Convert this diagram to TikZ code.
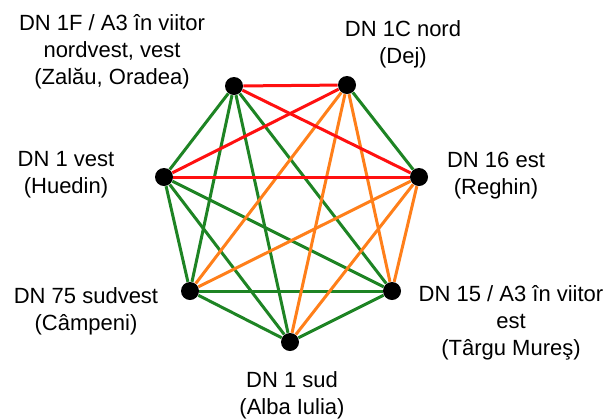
\documentclass[tikz,border=0pt]{standalone}
\usepackage{fontspec}
\setmainfont{Liberation Sans}
\usepackage{tikz}
\usetikzlibrary{positioning}
\definecolor{RoadGreen}{HTML}{1E8424}
\definecolor{RoadRed}{HTML}{FF1010}
\definecolor{RoadOrange}{HTML}{FF7F1A}

\begin{document}
\begin{tikzpicture}[x=0.5pt, y=-0.5pt,
    city/.style={circle, fill=black, inner sep=0pt, minimum size=9pt},
    lbl/.style={align=center, font=\fontsize{11}{13.5}\selectfont},
    green/.style={RoadGreen, line width=1.5pt},
    red/.style={RoadRed, line width=1.5pt},
    orange/.style={RoadOrange, line width=1.5pt}]
    \useasboundingbox (0,0) rectangle (605,419);

    \node (zal) [city] at (234, 86) {};
    \node (dej) [city] at (347, 85) {};
    \node (reg) [city] at (419, 177) {};
    \node (tgm) [city] at (392, 291) {};
    \node (alb) [city] at (290, 342) {};
    \node (cam) [city] at (190, 291) {};
    \node (hue) [city] at (164, 177) {};

    \draw[green] (zal) -- (hue);
    \draw[green] (zal) -- (cam);
    \draw[green] (zal) -- (alb);
    \draw[green] (zal) -- (tgm);
    \draw[green] (dej) -- (reg);
    \draw[green] (hue) -- (cam);
    \draw[green] (hue) -- (alb);
    \draw[green] (hue) -- (tgm);
    \draw[green] (cam) -- (alb);
    \draw[green] (cam) -- (tgm);
    \draw[green] (alb) -- (tgm);

    \draw[orange] (dej) -- (cam);
    \draw[orange] (dej) -- (alb);
    \draw[orange] (dej) -- (tgm);
    \draw[orange] (reg) -- (cam);
    \draw[orange] (reg) -- (alb);
    \draw[orange] (reg) -- (tgm);

    \draw[red] (zal) -- (dej);
    \draw[red] (zal) -- (reg);
    \draw[red] (dej) -- (hue);
    \draw[red] (hue) -- (reg);

    \node (zal-l) [lbl] at (112, 52) {DN 1F / A3 în viitor\\nordvest, vest\\(Zalău, Oradea)};
    \node (dej-l) [lbl] at (403, 44) {DN 1C nord\\(Dej)};
    \node (reg-l) [lbl] at (496, 176) {DN 16 est\\(Reghin)};
    \node (tgm-l) [lbl] at (511, 323) {DN 15 / A3 în viitor\\est\\(Târgu Mureş)};
    \node (alb-l) [lbl] at (292, 395) {DN 1 sud\\(Alba Iulia)};
    \node (cam-l) [lbl] at (86, 311) {DN 75 sudvest\\(Câmpeni)};
    \node (hue-l) [lbl] at (66, 175) {DN 1 vest\\(Huedin)};
\end{tikzpicture}
\end{document}
